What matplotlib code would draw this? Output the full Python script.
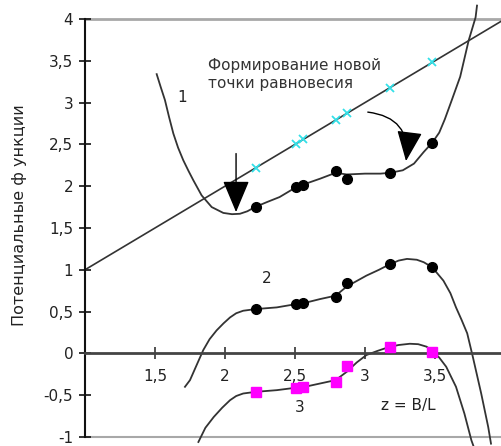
import matplotlib
matplotlib.use("Agg")
import matplotlib.pyplot as plt

plt.rcParams['font.family'] = ['DejaVu Sans']

# ---- data ----
# marker positions (z = B/L)
z_pts = [2.22, 2.51, 2.56, 2.79, 2.87, 3.18, 3.48]
y1_pts = [1.75, 1.99, 2.02, 2.18, 2.08, 2.16, 2.52]
y2_pts = [0.53, 0.59, 0.60, 0.67, 0.84, 1.07, 1.03]
y3_pts = [-0.46, -0.41, -0.40, -0.34, -0.155, 0.075, 0.02]
yline_pts = [2.22, 2.51, 2.56, 2.79, 2.87, 3.18, 3.48]

# straight line y = z
line_z = [1.0, 4.0]
line_y = [1.0, 4.0]

# curve 1
c1_z = [1.512, 1.54, 1.571, 1.60, 1.631, 1.665, 1.702, 1.74, 1.774, 1.833, 1.905, 1.988,
        2.05, 2.107, 2.16, 2.214, 2.30, 2.39, 2.51, 2.56, 2.68, 2.79, 2.87, 3.0, 3.11,
        3.18, 3.27, 3.35, 3.42, 3.48, 3.53, 3.57, 3.62, 3.68, 3.74, 3.79, 3.80]
c1_y = [3.34, 3.19, 3.03, 2.83, 2.63, 2.46, 2.31, 2.18, 2.07, 1.89, 1.75, 1.68,
        1.665, 1.67, 1.70, 1.75, 1.81, 1.87, 1.99, 2.02, 2.09, 2.16, 2.14, 2.15, 2.15,
        2.16, 2.19, 2.27, 2.41, 2.52, 2.64, 2.80, 3.03, 3.31, 3.74, 4.02, 4.16]

# curve 2
c2_z = [1.714, 1.75, 1.80, 1.845, 1.89, 1.94, 1.99, 2.036, 2.08, 2.13, 2.22, 2.37,
        2.51, 2.56, 2.68, 2.79, 2.87, 3.01, 3.10, 3.17, 3.24, 3.30, 3.37, 3.42, 3.48,
        3.56, 3.61, 3.65, 3.69, 3.73, 3.77, 3.80, 3.83, 3.88, 3.90]
c2_y = [-0.40, -0.32, -0.13, 0.04, 0.17, 0.275, 0.36, 0.43, 0.48, 0.51, 0.53, 0.55,
        0.59, 0.60, 0.65, 0.69, 0.80, 0.93, 1.00, 1.06, 1.11, 1.13, 1.12, 1.09, 1.03,
        0.87, 0.72, 0.55, 0.40, 0.24, -0.04, -0.26, -0.48, -0.88, -1.08]

# curve 3
c3_z = [1.81, 1.86, 1.92, 1.98, 2.036, 2.08, 2.13, 2.22, 2.37, 2.51, 2.57, 2.68, 2.79,
        2.87, 2.94, 3.01, 3.09, 3.17, 3.24, 3.32, 3.38, 3.44, 3.48, 3.53, 3.58, 3.65,
        3.71, 3.76, 3.775]
c3_y = [-1.06, -0.89, -0.76, -0.65, -0.56, -0.51, -0.48, -0.46, -0.44, -0.41, -0.40,
        -0.36, -0.32, -0.22, -0.11, -0.02, 0.03, 0.075, 0.10, 0.115, 0.11, 0.08, 0.03,
        -0.05, -0.16, -0.40, -0.72, -1.04, -1.11]

xtick_vals = [1.5, 2.0, 2.5, 3.0, 3.5, 4.0]
xtick_labels = ['1,5', '2', '2,5', '3', '3,5', '4']
ytick_vals = [-1, -0.5, 0, 0.5, 1, 1.5, 2, 2.5, 3, 3.5, 4]
ytick_labels = ['-1', '-0,5', '0', '0,5', '1', '1,5', '2', '2,5', '3', '3,5', '4']

W, H = 501, 446
fig = plt.figure(figsize=(W / 100, H / 100), dpi=100)
ax = fig.add_axes([85 / W, 0, 420 / W, 1])
ax.set_xlim(1.0, 4.0)
ax.set_ylim(-1.108, 4.227)

# frame lines
ax.axhline(4, color='#a8a8a8', lw=2.0, zorder=1)
ax.axhline(-1, color='#a8a8a8', lw=1.5, zorder=1)
for s in ['top', 'right']:
    ax.spines[s].set_visible(False)
ax.spines['left'].set_bounds(-1, 4)
ax.spines['left'].set_color('#111111')
ax.spines['left'].set_linewidth(1.5)
ax.spines['bottom'].set_position(('data', 0))
ax.spines['bottom'].set_color('#444444')
ax.spines['bottom'].set_linewidth(2.0)

ax.set_xticks(xtick_vals)
ax.set_xticklabels(xtick_labels)
ax.set_yticks(ytick_vals)
ax.set_yticklabels(ytick_labels)
ax.tick_params(axis='x', direction='inout', length=9, width=1.2, color='#333333',
               pad=7, labelsize=11, labelcolor='#222222')
ax.tick_params(axis='y', direction='inout', length=9, width=1.2, color='#111111',
               pad=4, labelsize=11, labelcolor='#222222')

lc = '#333333'
ax.plot(line_z, line_y, color=lc, lw=1.2, zorder=2)
ax.plot(c1_z, c1_y, color=lc, lw=1.3, zorder=2)
ax.plot(c2_z, c2_y, color=lc, lw=1.3, zorder=2)
ax.plot(c3_z, c3_y, color=lc, lw=1.3, zorder=2)

ax.plot(z_pts, yline_pts, ls='none', marker='x', color='#33e0e8', ms=6, mew=1.3, zorder=3)
ax.plot(z_pts, y1_pts, ls='none', marker='o', color='black', ms=7, zorder=3)
ax.plot(z_pts, y2_pts, ls='none', marker='o', color='black', ms=7, zorder=3)
ax.plot(z_pts, y3_pts, ls='none', marker='s', color='#ff00ff', ms=6.5, mec='#ff00ff', zorder=3)

# texts
ax.text(1.879, 3.34, 'Формирование новой\nточки равновесия', ha='left', va='center',
        fontsize=11, color='#333333', linespacing=1.25)
ax.text(1.693, 3.06, '1', ha='center', va='center', fontsize=11, color='#222222')
ax.text(2.30, 0.90, '2', ha='center', va='center', fontsize=11, color='#222222')
ax.text(2.536, -0.65, '3', ha='center', va='center', fontsize=11, color='#222222')
ax.text(3.31, -0.62, 'z = B/L', ha='center', va='center', fontsize=11, color='#222222')

fig.text(20 / W, 1 - 215 / H, 'Потенциальные ф ункции', rotation=90, ha='center',
         va='center', fontsize=11.5, color='#222222')

# arrows
ax.annotate('', xy=(2.079, 1.69), xytext=(2.079, 2.39),
            arrowprops=dict(arrowstyle='-|>,head_length=1.0,head_width=0.42',
                            mutation_scale=20, color='black', lw=1.0,
                            shrinkA=0, shrinkB=0), zorder=4)
ax.annotate('', xy=(3.293, 2.30), xytext=(3.02, 2.886),
            arrowprops=dict(arrowstyle='-|>,head_length=0.95,head_width=0.4',
                            mutation_scale=20, color='black', lw=1.0,
                            connectionstyle='arc3,rad=-0.5',
                            shrinkA=0, shrinkB=0), zorder=4)

fig.savefig('out.png', dpi=100)
